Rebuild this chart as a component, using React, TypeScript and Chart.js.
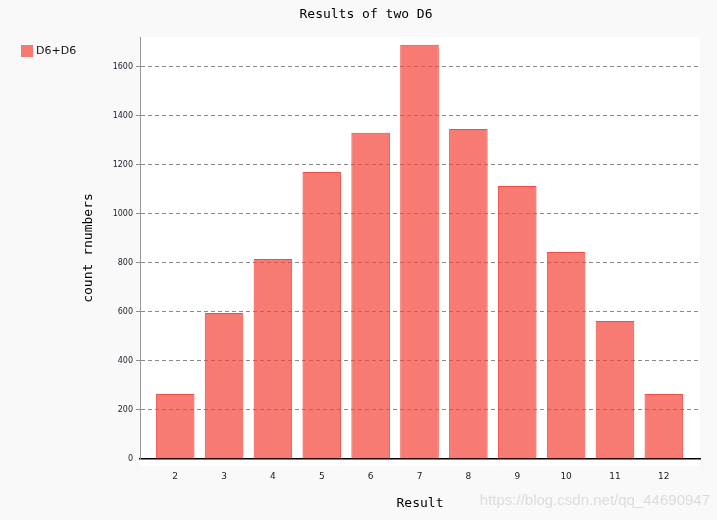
import { useEffect, useRef } from 'react';
import { Chart, registerables } from 'chart.js';

Chart.register(...registerables);

const categories = ['2', '3', '4', '5', '6', '7', '8', '9', '10', '11', '12'];
const counts = [265, 596, 816, 1171, 1331, 1690, 1347, 1114, 845, 563, 265];
const yTicks = [0, 200, 400, 600, 800, 1000, 1200, 1400, 1600];
const seriesName = 'D6+D6';
const chartTitle = 'Results of two D6';
const xTitle = 'Result';
const yTitle = 'count rnumbers';
const watermark = 'https://blog.csdn.net/qq_44690947';

export default function App() {
  const ref = useRef<HTMLCanvasElement | null>(null);

  useEffect(() => {
    document.body.style.margin = '0';
    const canvas = ref.current;
    if (!canvas) return;

    const bgPlugin = {
      id: 'bgPlugin',
      beforeDraw(chart: any) {
        const { ctx, chartArea } = chart;
        ctx.save();
        ctx.fillStyle = '#f9f9f9';
        ctx.fillRect(0, 0, chart.width, chart.height);
        ctx.fillStyle = '#ffffff';
        ctx.fillRect(chartArea.left, chartArea.top, chartArea.right - chartArea.left, chartArea.bottom + 7 - chartArea.top);
        ctx.restore();
      },
      afterDraw(chart: any) {
        const { ctx } = chart;
        ctx.save();
        ctx.fillStyle = '#000';
        ctx.font = '13px "DejaVu Sans Mono"';
        ctx.textAlign = 'center';
        ctx.textBaseline = 'middle';
        ctx.fillText(chartTitle, 366, 15);
        // legend
        ctx.fillStyle = 'rgba(244,67,54,0.7)';
        ctx.fillRect(21, 45, 12, 12);
        ctx.fillStyle = '#111';
        ctx.font = '11px "DejaVu Sans"';
        ctx.textAlign = 'left';
        ctx.fillText(seriesName, 36, 51);
        // watermark
        ctx.font = '15px "Liberation Sans"';
        ctx.textAlign = 'right';
        ctx.fillStyle = '#dcdcdc';
        ctx.fillText(watermark, 710, 501);
        ctx.restore();
      },
    };

    const chart = new Chart(canvas, {
      type: 'bar',
      data: {
        datasets: [
          {
            label: seriesName,
            data: categories.map((c, i) => ({ x: Number(c), y: counts[i] })),
            backgroundColor: 'rgba(244,67,54,0.7)',
            borderColor: 'rgba(240,70,60,0.95)',
            borderWidth: 1,
            barPercentage: 0.79,
            categoryPercentage: 1,
          },
        ],
      },
      options: {
        responsive: false,
        animation: false,
        layout: { padding: { left: 0, top: 37, right: 17, bottom: 0 } },
        plugins: {
          legend: { display: false },
          title: { display: false },
          tooltip: { enabled: false },
        },
        scales: {
          x: {
            type: 'linear',
            offset: false,
            min: 1.28,
            max: 12.74,
            afterFit(scale: any) {
              scale.height = 61;
            },
            afterBuildTicks(scale: any) {
              scale.ticks = categories.map((c) => ({ value: Number(c) }));
            },
            ticks: {
              autoSkip: false,
              maxRotation: 0,
              padding: 12,
              color: '#222',
              font: { size: 9, family: 'DejaVu Sans' },
              callback: (v: any) => {
                const idx = categories.indexOf(String(v));
                return idx >= 0 ? categories[idx] : '';
              },
            },
            grid: { display: false, drawTicks: false },
            border: { display: true, color: '#000', width: 1.5 },
            title: {
              display: true,
              text: xTitle,
              color: '#000',
              font: { size: 13, family: 'DejaVu Sans Mono' },
              padding: { top: 0, bottom: 9 },
            },
          },
          y: {
            min: 0,
            max: 1722,
            afterFit(scale: any) {
              scale.width = 140;
            },
            afterBuildTicks(scale: any) {
              scale.ticks = yTicks.map((v) => ({ value: v }));
            },
            ticks: {
              padding: 3,
              color: '#223',
              font: { size: 8, family: 'DejaVu Sans' },
              callback: (v: any) => String(v),
            },
            grid: {
              color: (c: any) => (c.tick && c.tick.value === 0 ? 'rgba(0,0,0,0)' : '#8a8a8a'),
              lineWidth: 1,
              tickLength: 4,
            },
            border: { display: true, color: '#9a9a9a', width: 1, dash: [4, 3] },
            title: {
              display: true,
              text: yTitle,
              color: '#000',
              font: { size: 13, family: 'DejaVu Sans Mono' },
              padding: { top: 81, bottom: 0 },
            },
          },
        },
      },
      plugins: [bgPlugin],
    } as any);

    return () => chart.destroy();
  }, []);

  return <canvas ref={ref} width={717} height={520} style={{ display: 'block' }} />;
}
